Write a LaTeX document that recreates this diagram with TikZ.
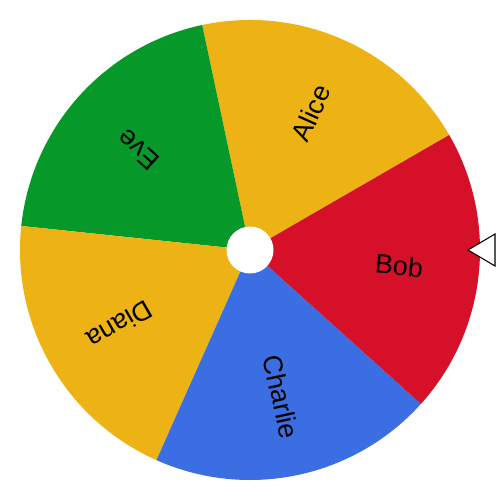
\documentclass[tikz,border=0pt]{standalone}
\usepackage{fontspec}
\setmainfont{Liberation Sans}
\usetikzlibrary{positioning}
\definecolor{wheelyellow}{RGB}{237,178,20}
\definecolor{wheelred}{RGB}{213,16,40}
\definecolor{wheelblue}{RGB}{58,110,226}
\definecolor{wheelgreen}{RGB}{6,152,40}

\begin{document}
\begin{tikzpicture}[font=\fontsize{15.3}{18}\selectfont,
 lab/.style={anchor=center,inner sep=0pt}]
\useasboundingbox (0,0) rectangle (10,10);
\coordinate (c) at (5,5);
\fill[wheelyellow] (c) -- ++(30:4.6) arc[start angle=30,end angle=102,radius=4.6] -- cycle;
\fill[wheelgreen] (c) -- ++(102:4.6) arc[start angle=102,end angle=174,radius=4.6] -- cycle;
\fill[wheelyellow] (c) -- ++(174:4.6) arc[start angle=174,end angle=246,radius=4.6] -- cycle;
\fill[wheelblue] (c) -- ++(246:4.6) arc[start angle=246,end angle=318,radius=4.6] -- cycle;
\fill[wheelred] (c) -- ++(318:4.6) arc[start angle=318,end angle=390,radius=4.6] -- cycle;
\node[circle,fill=white,minimum size=0.94cm,inner sep=0pt] (hub) at (c) {};
\path (c) ++(66:3.0) node[lab,rotate=66] (alice) {Alice};
\path (c) ++(138:3.0) node[lab,rotate=138] (eve) {Eve};
\path (c) ++(210:3.0) node[lab,rotate=210] (diana) {Diana};
\path (c) ++(282:3.0) node[lab,rotate=282] (charlie) {Charlie};
\path (c) ++(354:3.0) node[lab,rotate=354] (bob) {Bob};
% pointer
\draw[fill=white,line width=0.6pt] (9.36,5) -- (9.9,5.32) -- (9.9,4.68) -- cycle;
\end{tikzpicture}
\end{document}
